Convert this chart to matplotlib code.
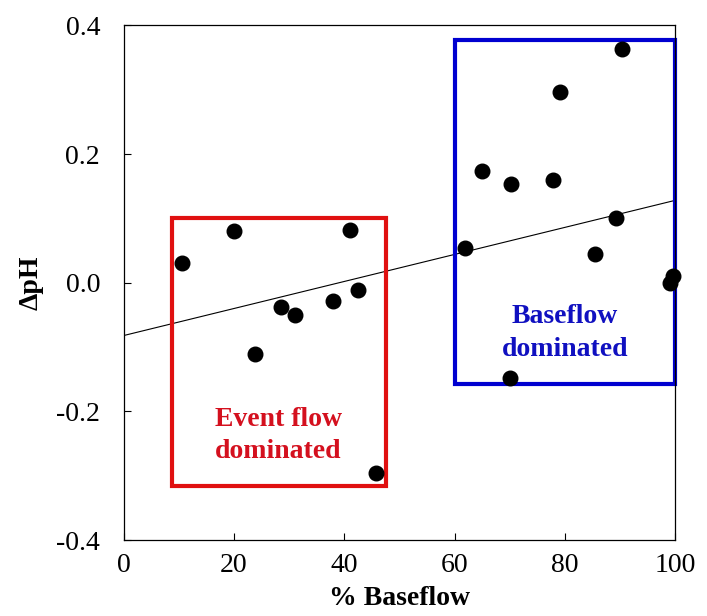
import numpy as np
import matplotlib.pyplot as plt
from matplotlib.patches import Rectangle

plt.rcParams['font.family'] = ['Liberation Serif', 'DejaVu Serif']

# % baseflow vs change in pH
baseflow = [10.5, 20.0, 23.8, 28.5, 31.0, 37.9, 41.0, 42.5, 45.7,
            61.9, 65.0, 70.2, 70.1, 77.9, 79.1, 85.5, 89.3, 90.4, 99.1, 99.6]
dph = [0.030, 0.080, -0.111, -0.038, -0.050, -0.029, 0.082, -0.012, -0.296,
       0.054, 0.173, 0.153, -0.148, 0.159, 0.297, 0.044, 0.100, 0.363, -0.001, 0.010]
# trend line end points
trend_x = [0, 100]
trend_y = [-0.082, 0.128]
# boxes: x0, x1, y0, y1
event_box = [8.7, 47.5, -0.315, 0.100]
base_box = [60.1, 100.0, -0.158, 0.377]

fig = plt.figure(figsize=(7.07, 6.16), dpi=100)
ax = fig.add_axes([0.175, 0.123, 0.78, 0.836])

ax.plot(trend_x, trend_y, color='black', lw=0.8, zorder=2)
ax.scatter(baseflow, dph, s=110, c='black', zorder=3, clip_on=False)

ax.add_patch(Rectangle((event_box[0], event_box[2]), event_box[1] - event_box[0],
                       event_box[3] - event_box[2], fill=False, ec='#e01010', lw=3, zorder=2))
ax.add_patch(Rectangle((base_box[0], base_box[2]), base_box[1] - base_box[0],
                       base_box[3] - base_box[2], fill=False, ec='#0000d0', lw=3,
                       zorder=2, clip_on=False))

ax.text(28.1, -0.237, 'Event flow\ndominated', color='#d4101e', fontsize=20,
        fontweight='bold', ha='center', va='center', linespacing=1.4)
ax.text(80.0, -0.078, 'Baseflow\ndominated', color='#1010c0', fontsize=20,
        fontweight='bold', ha='center', va='center', linespacing=1.4)

ax.set_xlim(0, 100)
ax.set_ylim(-0.4, 0.4)
ax.set_xticks([0, 20, 40, 60, 80, 100])
ax.set_yticks([-0.4, -0.2, 0.0, 0.2, 0.4])
ax.set_yticklabels(['-0.4', '-0.2', '0.0', '0.2', '0.4'])
ax.tick_params(direction='in', length=5, width=0.8, labelsize=20)
ax.tick_params(axis='x', pad=9)
ax.tick_params(axis='y', pad=17)
for s in ax.spines.values():
    s.set_linewidth(0.9)

ax.set_xlabel('% Baseflow', fontsize=20, fontweight='bold', labelpad=6)
ax.set_ylabel('ΔpH', fontsize=20, fontweight='bold', labelpad=9)

fig.savefig('out.png', dpi=100)
